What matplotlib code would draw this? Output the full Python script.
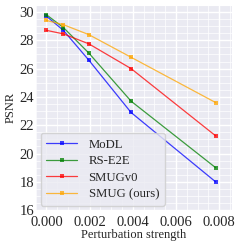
import matplotlib
matplotlib.use("Agg")
import matplotlib.pyplot as plt
import seaborn as sns
from matplotlib.ticker import AutoMinorLocator

strength = [0.0, 0.000784, 0.00196, 0.00392, 0.00784]
modl = [29.7, 28.7, 26.6, 22.9, 18.0]
rs_e2e = [29.8, 28.9, 27.1, 23.7, 19.0]
smugv0 = [28.7, 28.45, 27.75, 26.0, 21.25]
smug = [29.4, 29.1, 28.4, 26.8, 23.6]

names = ["MoDL", "RS-E2E", "SMUGv0", "SMUG (ours)"]
colors = ["blue", "green", "red", "orange"]

sns.set_style("darkgrid")
plt.rcParams['font.family'] = ['Liberation Serif', 'DejaVu Serif']

fig, ax = plt.subplots(figsize=(2.43, 2.43), dpi=100)
for vals, name, c in zip([modl, rs_e2e, smugv0, smug], names, colors):
    ax.plot(strength, vals, color=c, marker='s', markersize=2.5, linewidth=0.9,
            alpha=0.75, markeredgewidth=0, label=name)

ax.set_xlim(-0.00052, 0.0086)
ax.set_ylim(16, 30.5)
ax.set_xticks([0, 0.002, 0.004, 0.006, 0.008])
ax.set_xticklabels(["0.000", "0.002", "0.004", "0.006", "0.008"])
ax.set_yticks(range(16, 31, 2))
ax.xaxis.set_minor_locator(AutoMinorLocator(4))
ax.yaxis.set_minor_locator(AutoMinorLocator(4))
ax.grid(which='minor', color='white', linewidth=0.5)
ax.grid(which='major', color='white', linewidth=1.0)
ax.tick_params(axis='both', labelsize=10.5, length=0, which='both')
ax.tick_params(axis='y', pad=1)
ax.tick_params(axis='x', pad=4)
ax.set_xlabel("Perturbation strength", fontsize=9, labelpad=0)
ax.set_ylabel("PSNR", fontsize=9, labelpad=2)
ax.legend(loc='lower left', bbox_to_anchor=(-0.005, -0.01), fontsize=9.2,
          handlelength=2.4, borderpad=0.45, labelspacing=0.35,
          handletextpad=0.9, frameon=True)

fig.subplots_adjust(left=0.145, right=0.955, top=0.98, bottom=0.135)
fig.savefig("out.png", dpi=100)
